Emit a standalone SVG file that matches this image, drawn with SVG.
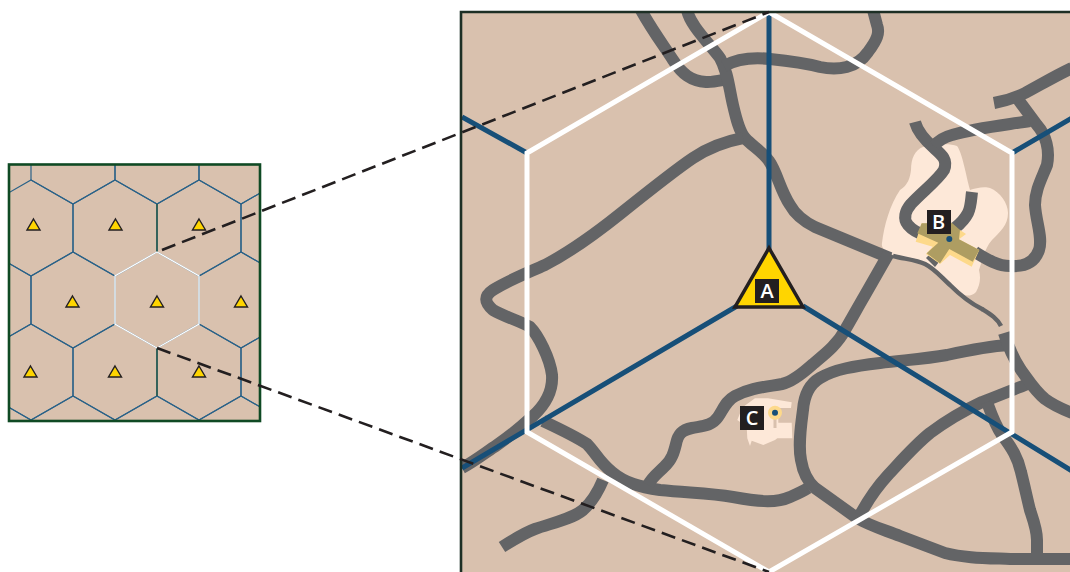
<svg xmlns="http://www.w3.org/2000/svg" xmlns:xlink="http://www.w3.org/1999/xlink" width="1070" height="572" viewBox="0 0 1070 572">
<style>
.road{fill:none;stroke:#636466;stroke-width:12;stroke-linejoin:round}
.thin{fill:none;stroke:#636466;stroke-width:4.500}
.blue{fill:none;stroke:#174f78;stroke-width:5}
.white{fill:none;stroke:#fff;stroke-width:5;stroke-linejoin:miter}
.dash{fill:none;stroke:#231f20;stroke-width:2.6;stroke-dasharray:14.3 7.2}
.light{fill:#fde8d8}
.lab{fill:#231f20}
.txt{fill:#fff;font-family:"Open Sans","Liberation Sans",sans-serif;font-size:20px;font-weight:600;text-anchor:middle}
.sh{fill:none;stroke:#2a6288;stroke-width:1.2}
.st{fill:#ffd500;stroke:#231f20;stroke-width:1.4;stroke-linejoin:miter}
</style>
<defs>
<clipPath id="cs"><rect x="9" y="164.5" width="251" height="256.5"/></clipPath>
<clipPath id="cb"><rect x="461" y="12" width="609" height="560"/></clipPath>
<polygon id="hx" points="0,-48 42,-24 42,24 0,48 -42,24 -42,-24"/>
<polygon id="tr" points="0,-6 6.5,5 -6.5,5"/>
</defs>
<rect width="1070" height="572" fill="#fff"/>
<g id="overview">
<rect x="9" y="164.5" width="251" height="256.5" fill="#d9c1ae"/>
<g clip-path="url(#cs)" class="sh">
<use xlink:href="#hx" x="73" y="156"/><use xlink:href="#hx" x="157" y="156"/><use xlink:href="#hx" x="241" y="156"/>
<use xlink:href="#hx" x="31" y="228"/><use xlink:href="#hx" x="115" y="228"/><use xlink:href="#hx" x="199" y="228"/><use xlink:href="#hx" x="283" y="228"/>
<use xlink:href="#hx" x="-11" y="300"/><use xlink:href="#hx" x="73" y="300"/><use xlink:href="#hx" x="241" y="300"/>
<use xlink:href="#hx" x="31" y="372"/><use xlink:href="#hx" x="115" y="372"/><use xlink:href="#hx" x="199" y="372"/><use xlink:href="#hx" x="283" y="372"/>
<use xlink:href="#hx" x="-11" y="444"/><use xlink:href="#hx" x="73" y="444"/><use xlink:href="#hx" x="157" y="444"/><use xlink:href="#hx" x="241" y="444"/>
</g>
<path d="M157,204V252M157,348V396" fill="none" stroke="#2a5a3a" stroke-width="1.2"/>
<use xlink:href="#hx" x="157" y="300" fill="none" stroke="#fff" stroke-width="1.4"/>
<g class="st">
<use xlink:href="#tr" x="33.5" y="225"/><use xlink:href="#tr" x="115.5" y="225"/><use xlink:href="#tr" x="199" y="225"/>
<use xlink:href="#tr" x="72.500" y="302"/><use xlink:href="#tr" x="157" y="302"/><use xlink:href="#tr" x="241" y="302"/>
<use xlink:href="#tr" x="30.500" y="372"/><use xlink:href="#tr" x="115" y="372"/><use xlink:href="#tr" x="199" y="372"/>
</g>
<rect x="9" y="164.5" width="251" height="256.5" fill="none" stroke="#0f4a24" stroke-width="2.6"/>
</g>
<g id="detail">
<rect x="461" y="12" width="612" height="563" fill="#d9c1ae"/>
<g clip-path="url(#cb)">
<path id="town-b" class="light" d="M923,147C935,144 950,143 957,146C962,152 966,175 970,190C975,188 985,186 990,188C1000,192 1008,203 1008,213C1008,225 1000,232 992,240C985,248 983,258 979,270C981,278 980,285 976,292C970,298 962,296 955,290C945,282 935,270 923,262C913,257 902,257 893,255C885,252 881,248 882,243C884,225 890,205 900,190C908,185 910,178 911,170C911,158 915,150 923,147Z"/>
<polygon id="town-c" class="light" points="755,398.300 768,398.300 791.700,402.300 791,408 778.300,408 778.300,422.700 791.700,422.700 792.300,438.300 777.300,438.300 775,440 763.300,445 751.700,440.700 750,446 747.300,438.300 746.700,426.700 737.300,420 740,413.300 743.300,406.700"/>
<g id="roads">
<path class="road" d="M641,10C652,30 664,46 673,60C682,74 691,81 706,82C714,82.500 722,80 729,79"/>
<path class="road" d="M687,10C690,25 708,42 720,58C728,72 729,88 733,105C736,118 739,131 745,138C752,146 762,151 769,161C777,172 780,190 790,205C796,216 805,222 815,227L890,258"/>
<path class="road" d="M724,66C735,60 752,57 770,59C790,61 805,63 820,67C838,71 857,68 868,52C877,40 880,33 877,25L873,10"/>
<path class="road" d="M743,138C722,142 705,150 693,158C675,170 650,190 620,214C595,234 570,252 545,265C525,274 505,282 493,290C484,296 484,302 493,310C505,317 520,321 530,327C538,335 550,358 552,375C553,390 546,404 533,416C520,428 510,436 497,445C485,453 475,461 462,468"/>
<path class="road" d="M543,421C560,429 575,436 587,444C595,452 600,463 612,472C625,483 640,487 660,490C690,493 710,493 733,497C755,501 775,504 790,497C797,494 802,492 808,488"/>
<path class="road" d="M603,480C598,492 592,502 583,510C572,519 552,523 535,529C524,533 513,540 502,547"/>
<path class="road" d="M648,485C652,477 658,473 664,467C672,460 674,452 676,444C678,434 682,430 692,428C702,426 712,426 718,417C724,408 726,401 735,396C750,388 765,387 782,384C792,382 803,373 813,364C825,354 837,345 845,330C852,318 858,307 865,295L889,253"/>
<path class="road" d="M1009,345C990,346 965,351 947,355C925,359 905,360 880,363C855,366 835,369 820,378C808,385 804,397 803,410C801,425 798,445 801,460C803,472 807,481 815,488L857,518C870,526 885,530 900,536L945,553C965,558 985,558 1010,559L1072,559"/>
<path class="road" d="M860,515C868,500 877,487 888,475C902,460 915,445 930,433C950,418 965,410 982,402C998,396 1012,390 1028,384"/>
<path class="road" d="M987,402C991,413 995,425 1002,435C1012,448 1018,458 1021,472C1025,488 1027,498 1030,510C1034,522 1037,530 1037,540V557"/>
<path class="thin" d="M893,256C905,259 917,260 925,264C935,269 941,277 950,285C958,293 970,303 982,309C990,314 997,318 1001,326"/>
<path class="road" d="M1004,333C1008,346 1013,358 1021,370C1029,381 1035,391 1045,399C1053,405 1062,409 1072,413"/>
<path class="road" d="M915,122C918,133 926,141 934,148C942,155 948,160 944,170C938,180 922,192 911,204C905,211 903,219 908,225C913,231 920,234 927,236"/>
<path class="road" d="M972,192C971,200 971,207 968,213C965,219 960,224 955,228"/>
<path class="road" d="M975,252C985,258 997,266 1010,266C1025,267 1035,262 1039,250C1043,238 1036,222 1035,205C1035,190 1042,178 1047,165C1050,150 1046,135 1037,125L1017,98"/>
<path class="road" d="M994,103C1005,101 1015,98 1025,93C1040,85 1055,76 1072,68"/>
<path class="road" d="M934,146C938,141 944,137 952,135C975,128 1005,125 1030,121"/>
<polygon points="926,258 930,254 939,262 935,267" fill="#636466"/>
</g>
<polygon id="cross-y" fill="#fdd98a" points="921.700,223.300 960,230 966,234 959,239.300 979.300,250 971.700,266.700 950,255 940,264 926,254 932.700,246.700 915.700,241.700"/>
<polygon id="cross-o" fill="#ae9d62" points="921.700,223.300 951.700,222.700 960,230 959,239.300 979.300,250 972.700,261.700 949.300,249 940,263.300 926.700,253.300 938.300,242.700 917.300,233.300"/>
<line x1="775" y1="418" x2="775" y2="428" stroke="#d9c1ae" stroke-width="3"/>
<circle cx="775" cy="412.700" r="7" fill="#fdd98a"/>
<circle cx="775" cy="412.700" r="3" fill="#174f78"/>
<circle cx="949.300" cy="239" r="3" fill="#174f78"/>
<g class="blue">
<path d="M769,14V250M737,306L462,468M803,306L1072,471M462,117L527,153M1012,153L1072,118"/>
</g>
<polygon id="zone" class="white" points="769,12 1012,153 1012,432 769,572 527,432 527,153"/>
</g>
<path d="M461,575V12H1073" fill="none" stroke="#1d2f25" stroke-width="2.6"/>
</g>
<g id="node-a">
<polygon points="769,248 803,307 735,307" fill="#ffd500" stroke="#231f20" stroke-width="3.5"/>
<rect class="lab" x="755" y="279" width="24" height="24"/>
<text class="txt" x="767" y="298">A</text>
</g>
<g id="node-b">
<rect class="lab" x="927" y="210" width="24" height="24"/>
<text class="txt" x="938.500" y="229">B</text>
</g>
<g id="node-c">
<rect class="lab" x="740" y="406" width="24" height="24"/>
<text class="txt" x="752" y="425">C</text>
</g>
<g id="connectors">
<path class="dash" d="M162,250L769,12"/>
<path class="dash" d="M157,348L769,572"/>
</g>
</svg>
